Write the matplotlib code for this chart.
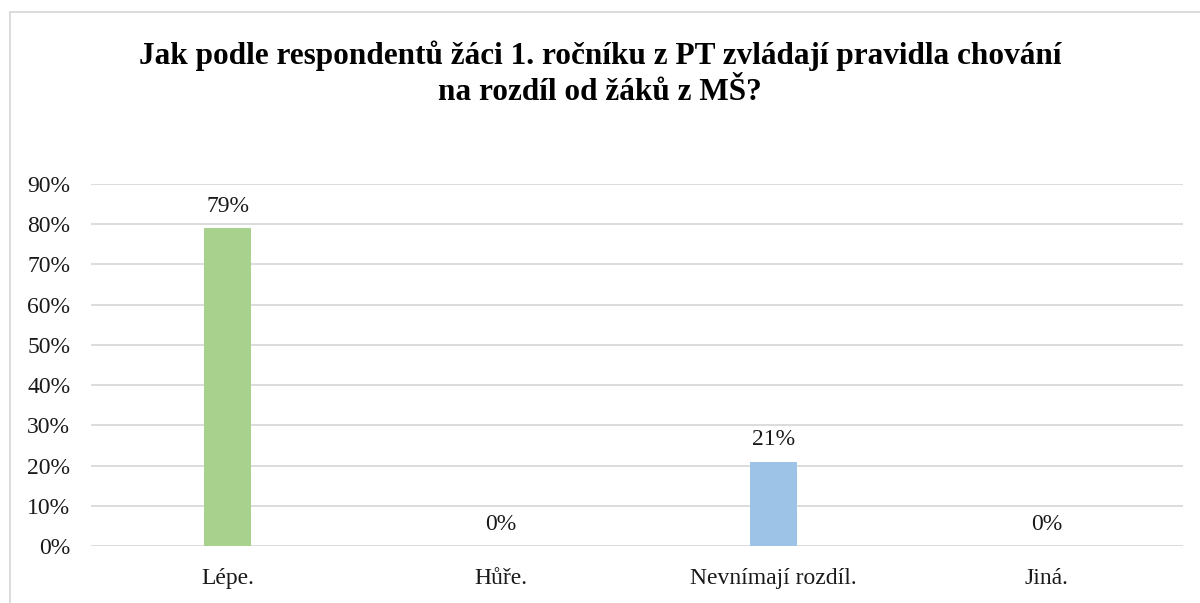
import matplotlib
matplotlib.use('Agg')
import matplotlib.pyplot as plt
from matplotlib.lines import Line2D
from matplotlib.ticker import PercentFormatter

# ── Data ──────────────────────────────────────────────────────────────────────
categories = ['Lépe.', 'Hůře.', 'Nevnímají rozdíl.', 'Jiná.']
values = [79, 0, 21, 0]
bar_colors = ['#A9D18E', '#A9D18E', '#9DC3E6', '#9DC3E6']
title = ('Jak podle respondentů žáci 1. ročníku z PT zvládají pravidla chování\n'
         'na rozdíl od žáků z MŠ?')

plt.rcParams['font.family'] = ['Liberation Serif', 'DejaVu Serif']

fig = plt.figure(figsize=(12, 6.03), dpi=100, facecolor='white')
ax = fig.add_axes([91 / 1200, 1 - 546 / 603, (1183 - 91) / 1200, (546 - 184) / 603])

x = range(len(categories))
bars = ax.bar(x, values, width=0.172, color=bar_colors, zorder=3)

for xi, v in zip(x, values):
    ax.annotate(f'{v}%', (xi, v), xytext=(0, 8), textcoords='offset points',
                ha='center', va='bottom', fontsize=17, color='#1a1a1a')

ax.set_ylim(0, 90)
ax.set_xlim(-0.5, len(categories) - 0.5)
ax.set_yticks(range(0, 91, 10))
ax.yaxis.set_major_formatter(PercentFormatter(decimals=0))
ax.set_xticks(list(x))
ax.set_xticklabels(categories)
ax.tick_params(axis='both', length=0, labelsize=17, colors='#1a1a1a')
ax.tick_params(axis='x', pad=16)
ax.tick_params(axis='y', pad=15)
ax.yaxis.grid(True, color='#D9D9D9', linewidth=1.3, zorder=0)
for sp in ax.spines.values():
    sp.set_visible(False)

fig.text(0.5, 1 - 74 / 603, title, ha='center', va='center',
         fontsize=22.5, fontweight='bold', linespacing=1.32, color='black')

# figure frame (top and left edges visible in the reference)
fig.add_artist(Line2D([10 / 1200, 1], [1 - 12 / 603, 1 - 12 / 603],
                      transform=fig.transFigure, color='#D9D9D9', lw=1.3))
fig.add_artist(Line2D([10 / 1200, 10 / 1200], [0, 1 - 12 / 603],
                      transform=fig.transFigure, color='#D9D9D9', lw=1.3))

fig.savefig('out.png', dpi=100, facecolor='white')
